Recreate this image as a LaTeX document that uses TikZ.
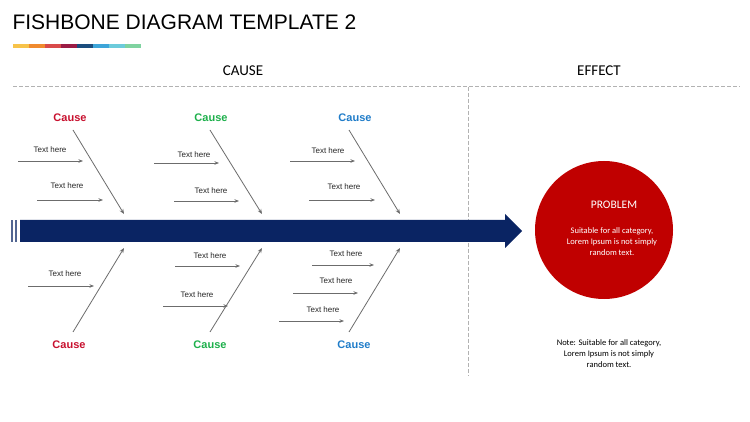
\documentclass[tikz,border=0pt]{standalone}
\usepackage{fontspec}
\setmainfont{Carlito}
\newfontfamily\arialf{Liberation Sans}
\usetikzlibrary{arrows.meta}
\definecolor{navy}{HTML}{0A2463}
\definecolor{cred}{HTML}{C8102E}
\definecolor{cgreen}{HTML}{1DB04B}
\definecolor{cblue}{HTML}{1F7CC9}
\definecolor{pred}{HTML}{C00000}
\begin{document}
\begin{tikzpicture}[x=1pt,y=-1pt,
  bone/.style={draw=gray!85!black,line width=0.8pt,-{Stealth[length=5pt,width=4pt]}},
  sub/.style={draw=gray!85!black,line width=0.7pt,-{Stealth[length=4.5pt,width=3.5pt]}},
  tx/.style={font=\arialf\fontsize{8}{9}\selectfont,text=gray!30!black},
  cz/.style={font=\arialf\bfseries\fontsize{11}{12}\selectfont},
  dashline/.style={draw=gray!60,line width=1pt,dash pattern=on 4pt off 2pt}]
\useasboundingbox (0,0) rectangle (750,422);
\fill[white] (0,0) rectangle (750,422);
\node[anchor=west,font=\arialf\fontsize{21}{22}\selectfont] (title) at (9,22) {FISHBONE DIAGRAM TEMPLATE 2};
\foreach \c [count=\i] in {F7C34A,F08A2E,D94A4A,9B1C45,1B4D7E,3DA5D9,6CCBDB,7FD3A0}{
  \definecolor{seg}{HTML}{\c}
  \fill[seg] ({13+(\i-1)*16},44.5) rectangle ({13+\i*16},48);}
\node[font=\fontsize{15}{16}\selectfont] (cause) at (243,71) {CAUSE};
\node[font=\fontsize{15}{16}\selectfont] (effect) at (599,71) {EFFECT};
\draw[dashline] (13,87) -- (740,87);
\draw[dashline] (468,87) -- (468,376);
% main arrow
\fill[navy] (20,220) -- (505,220) -- (505,214) -- (522,231) -- (505,248) -- (505,242) -- (20,242) -- cycle;
\fill[navy!70] (11,220) rectangle (13,242);
\fill[navy!70] (15,220) rectangle (17,242);
\coordinate (t1) at (124,214); \coordinate (t2) at (262,214); \coordinate (t3) at (400,214);
\coordinate (b1) at (124,248); \coordinate (b2) at (262,248); \coordinate (b3) at (400,248);
% causes
\node[cz,text=cred] (c1) at (70,118) {Cause};
\node[cz,text=cgreen] (c2) at (211,118) {Cause};
\node[cz,text=cblue] (c3) at (355,118) {Cause};
\node[cz,text=cred] (c4) at (69,345) {Cause};
\node[cz,text=cgreen] (c5) at (210,345) {Cause};
\node[cz,text=cblue] (c6) at (354,345) {Cause};
\draw[bone] (73,130) -- (t1);
\draw[bone] (210,130) -- (t2);
\draw[bone] (349,130) -- (t3);
\draw[bone] (73,332) -- (b1);
\draw[bone] (210,332) -- (b2);
\draw[bone] (349,332) -- (b3);
% sub arrows
\foreach \tx/\ty/\ax/\bx/\ay [count=\k] in {50/150/18/83/161, 67/186/37/103/200, 194/155/154/219/163, 211/191/174/239/201, 328/151/290/355/161, 344/187/309/375/200, 65/274/28/94/286, 210/256/175/240/266, 197/295/163/228/306, 346/254/312/374/265, 336/281/293/358/293, 323/310/279/344/321}{
  \node[tx] (l\k) at (\tx,\ty) {Text here};
  \coordinate (s\k) at (\ax,\ay); \coordinate (e\k) at (\bx,\ay);
  \draw[sub] (s\k) -- (e\k);}
% problem
\node[circle,fill=pred,minimum size=138pt,inner sep=0pt] (prob) at (604,230) {};
\node[font=\fontsize{11.5}{12}\selectfont,text=white] (pt) at (614,205) {PROBLEM};
\node[font=\fontsize{8.5}{11}\selectfont,text=white,align=center] (pd) at (612,242) {Suitable for all category,\\Lorem Ipsum is not simply\\random text.};
\node[font=\fontsize{8.5}{11}\selectfont,align=center] (note) at (609,354) {Note: Suitable for all category,\\Lorem Ipsum is not simply\\random text.};
\end{tikzpicture}
\end{document}
